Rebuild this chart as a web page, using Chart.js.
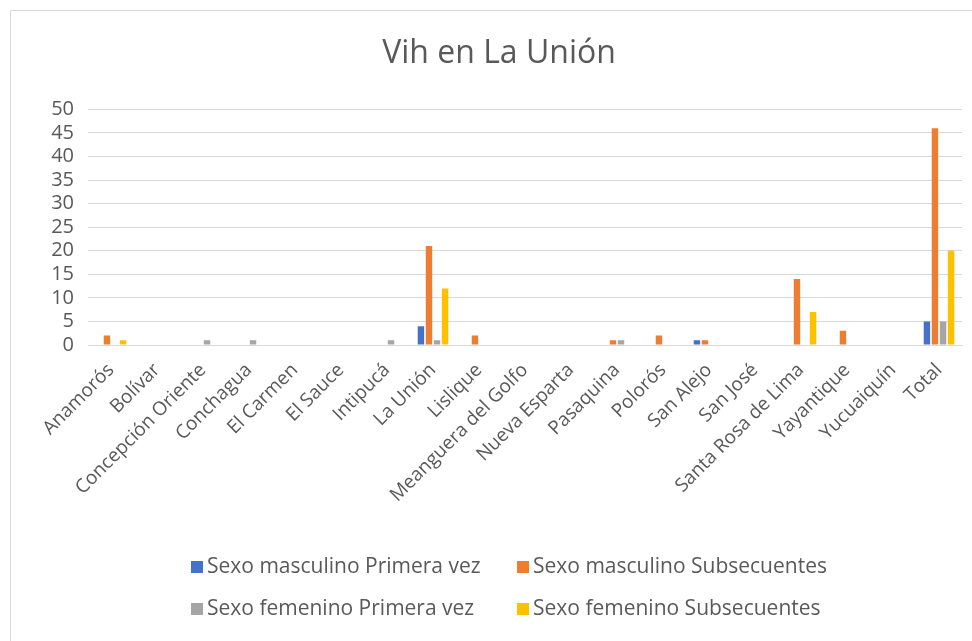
<!DOCTYPE html>
<html>
<head>
<meta charset="utf-8">
<script src="https://cdn.jsdelivr.net/npm/chart.js@4"></script>
<style>
    html, body { margin: 0; padding: 0; background: #fff; }
    #wrap { position: relative; width: 972px; height: 641px; overflow: hidden; }
    #frame { position: absolute; left: 10px; top: 10px; width: 1000px; height: 700px; border: 1px solid #d9d9d9; box-sizing: border-box; }
    canvas { position: absolute; left: 0; top: 0; }
    .legend { position: absolute; font-family: "Open Sans", sans-serif; font-size: 21px; color: #595959; white-space: nowrap; }
    .legend span.box { display: inline-block; width: 12px; height: 12px; margin-right: 4px; vertical-align: 0px; }
</style>
</head>
<body>
<div id="wrap">
    <div id="frame"></div>
    <canvas id="chart" width="972" height="641"></canvas>
    <div id="legend"></div>
</div>
<script>
const municipios = ['Anamorós', 'Bolívar', 'Concepción Oriente', 'Conchagua', 'El Carmen', 'El Sauce',
    'Intipucá', 'La Unión', 'Lislique', 'Meanguera del Golfo', 'Nueva Esparta', 'Pasaquina',
    'Polorós', 'San Alejo', 'San José', 'Santa Rosa de Lima', 'Yayantique', 'Yucuaiquín', 'Total'];

const masculinoPrimera = [0, 0, 0, 0, 0, 0, 0, 4, 0, 0, 0, 0, 0, 1, 0, 0, 0, 0, 5];
const masculinoSubsec  = [2, 0, 0, 0, 0, 0, 0, 21, 2, 0, 0, 1, 2, 1, 0, 14, 3, 0, 46];
const femeninoPrimera  = [0, 0, 1, 1, 0, 0, 1, 1, 0, 0, 0, 1, 0, 0, 0, 0, 0, 0, 5];
const femeninoSubsec   = [1, 0, 0, 0, 0, 0, 0, 12, 0, 0, 0, 0, 0, 0, 0, 7, 0, 0, 20];

const yTicks = [0, 5, 10, 15, 20, 25, 30, 35, 40, 45, 50];

const COLORS = {
    blue: '#4472c4',
    orange: '#ed7d31',
    gray: '#a5a5a5',
    yellow: '#ffc000',
    text: '#595959',
    grid: '#d9d9d9'
};

const FONT = '"Open Sans", sans-serif';

function serie(label, data, color) {
    return {
        label: label,
        data: data,
        backgroundColor: color,
        borderWidth: 0,
        categoryPercentage: 0.7,
        barPercentage: 0.8
    };
}

const datasets = [
    serie('Sexo masculino Primera vez', masculinoPrimera, COLORS.blue),
    serie('Sexo masculino Subsecuentes', masculinoSubsec, COLORS.orange),
    serie('Sexo femenino Primera vez', femeninoPrimera, COLORS.gray),
    serie('Sexo femenino Subsecuentes', femeninoSubsec, COLORS.yellow)
];

// padding izquierdo para que el título quede centrado como en el original
const ctx = document.getElementById('chart').getContext('2d');
const chart = new Chart(ctx, {
    type: 'bar',
    data: { labels: municipios, datasets: datasets },
    options: {
        responsive: false,
        animation: false,
        layout: { padding: { left: 36, right: 10, top: 0, bottom: 0 } },
        plugins: {
            legend: { display: false },
            tooltip: { enabled: false },
            title: {
                display: true,
                text: 'Vih en La Unión',
                color: COLORS.text,
                font: { family: FONT, size: 32, weight: 'normal' },
                padding: { top: 35, bottom: 36 }
            }
        },
        scales: {
            y: {
                min: 0,
                max: 50,
                afterBuildTicks: axis => { axis.ticks = yTicks.map(v => ({ value: v })); },
                afterFit: axis => { axis.width = 52; },
                grid: { color: COLORS.grid, lineWidth: 1, drawTicks: false },
                border: { display: false },
                ticks: { color: COLORS.text, font: { family: FONT, size: 20 }, padding: 14, autoSkip: false }
            },
            x: {
                afterFit: axis => { axis.height = 296; },
                grid: { display: false },
                border: { display: true, color: COLORS.grid, width: 1 },
                ticks: {
                    color: COLORS.text,
                    font: { family: FONT, size: 19 },
                    minRotation: 45,
                    maxRotation: 45,
                    autoSkip: false,
                    padding: 6
                }
            }
        }
    }
});

// leyenda en dos columnas como en Excel
const legend = document.getElementById('legend');
const pos = [[191, 551], [517, 551], [191, 593], [517, 593]];
chart.data.datasets.forEach((ds, i) => {
    const el = document.createElement('div');
    el.className = 'legend';
    el.style.left = pos[i][0] + 'px';
    el.style.top = pos[i][1] + 'px';
    el.innerHTML = `<span class="box" style="background:${ds.backgroundColor}"></span>${ds.label}`;
    legend.appendChild(el);
});
</script>
</body>
</html>
